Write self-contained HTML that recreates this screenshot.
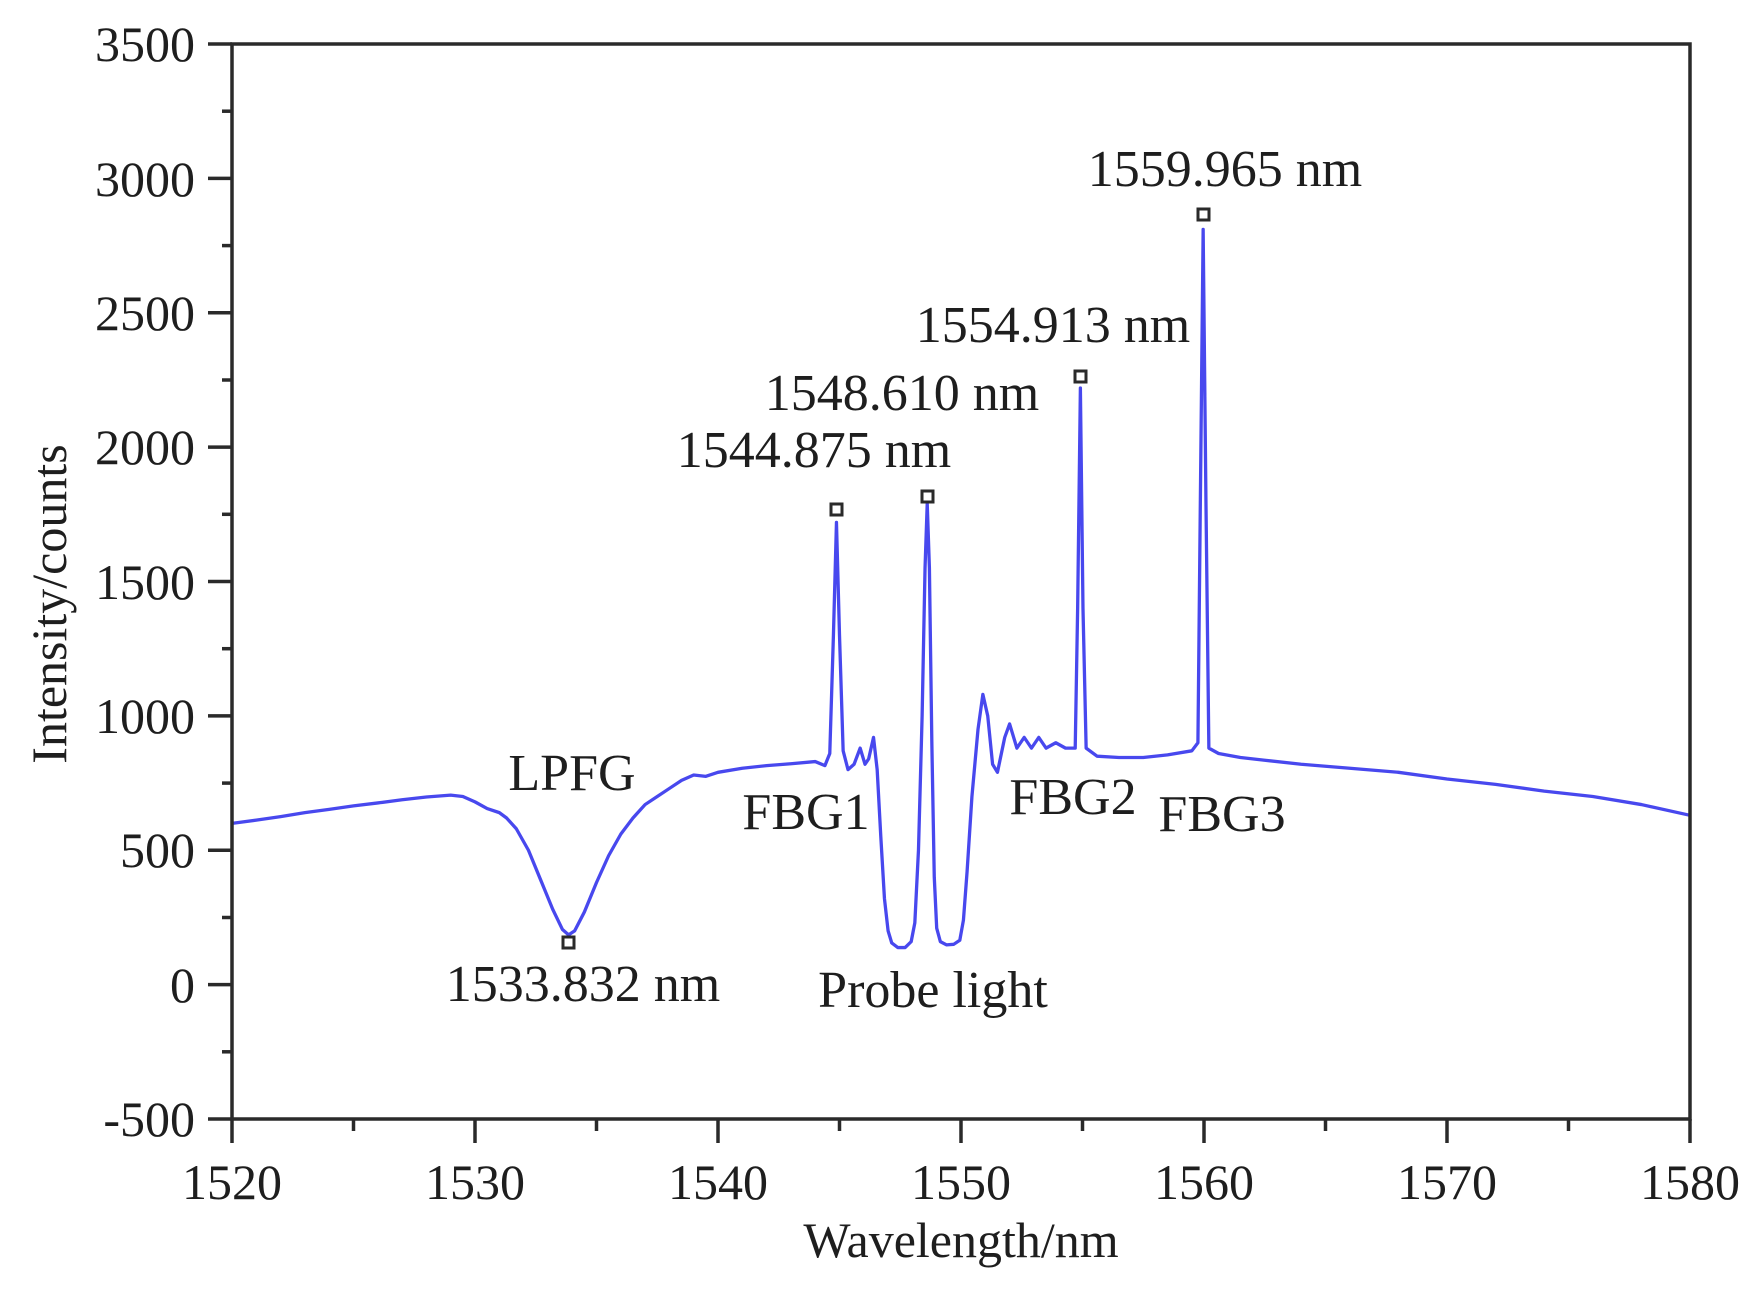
<!DOCTYPE html>
<html><head><meta charset="utf-8"><style>
html,body{margin:0;padding:0;background:#fff;}
svg{display:block;}
text{font-family:"Liberation Serif",serif;fill:#1e1e1e;}
</style></head><body>
<svg width="1764" height="1297" viewBox="0 0 1764 1297" xmlns="http://www.w3.org/2000/svg">
<rect width="1764" height="1297" fill="#fff"/>
<g transform="translate(232,1119) scale(24.3,-0.26875) translate(-1520,500)">
<path vector-effect="non-scaling-stroke" fill="none" stroke="#4848ee" stroke-width="3.3" stroke-linejoin="round" d="
M1520,600 L1521,612 L1522,625 L1523,640 L1524,652 L1525,665 L1526,676 L1527,688 L1528,698 L1529,705 L1529.5,700 L1530,680 L1530.5,655 L1531,640 L1531.3,620 L1531.7,580 L1532.2,500 L1532.7,390 L1533.2,280 L1533.6,205 L1533.85,185 L1534.1,200 L1534.5,270 L1535,380 L1535.5,480 L1536,560 L1536.5,620 L1537,670 L1537.5,700 L1538,730 L1538.5,760 L1539,780 L1539.5,775 L1540,790 L1541,805 L1542,815 L1543,822 L1544,830 L1544.4,815 L1544.6,860 L1544.75,1300 L1544.875,1720 L1545,1300 L1545.15,870 L1545.35,800 L1545.6,820 L1545.85,880 L1546.05,820 L1546.2,840 L1546.4,920 L1546.55,800 L1546.7,550 L1546.85,320 L1547,200 L1547.15,155 L1547.4,138 L1547.7,138 L1547.95,160 L1548.1,230 L1548.25,500 L1548.4,1000 L1548.52,1550 L1548.61,1790 L1548.7,1550 L1548.8,900 L1548.9,400 L1549,210 L1549.15,160 L1549.4,148 L1549.7,150 L1549.95,165 L1550.1,240 L1550.25,420 L1550.45,700 L1550.7,950 L1550.9,1080 L1551.1,1000 L1551.3,820 L1551.5,790 L1551.8,920 L1552,970 L1552.3,880 L1552.6,920 L1552.9,880 L1553.2,920 L1553.5,880 L1553.9,900 L1554.3,880 L1554.7,880 L1554.8,1400 L1554.913,2220 L1555.02,1400 L1555.15,880 L1555.6,850 L1556.5,845 L1557.5,845 L1558.5,855 L1559.5,870 L1559.75,900 L1559.85,1800 L1559.965,2810 L1560.08,1800 L1560.2,880 L1560.6,860 L1561.5,845 L1562.5,835 L1564,820 L1566,805 L1568,790 L1570,765 L1572,745 L1574,720 L1576,700 L1578,670 L1580,630"/>
</g>
<path d="M232,44 L1690,44 L1690,1119 L232,1119 Z" fill="none" stroke="#2a2a2a" stroke-width="3.5"/>
<g stroke="#2a2a2a" stroke-width="3.5">
<line x1="208" y1="44" x2="232" y2="44"/><line x1="208" y1="178.4" x2="232" y2="178.4"/><line x1="208" y1="312.8" x2="232" y2="312.8"/><line x1="208" y1="447.1" x2="232" y2="447.1"/><line x1="208" y1="581.5" x2="232" y2="581.5"/><line x1="208" y1="715.9" x2="232" y2="715.9"/><line x1="208" y1="850.3" x2="232" y2="850.3"/><line x1="208" y1="984.6" x2="232" y2="984.6"/><line x1="208" y1="1119" x2="232" y2="1119"/>
<line x1="222" y1="111.2" x2="232" y2="111.2"/><line x1="222" y1="245.6" x2="232" y2="245.6"/><line x1="222" y1="380" x2="232" y2="380"/><line x1="222" y1="514.3" x2="232" y2="514.3"/><line x1="222" y1="648.7" x2="232" y2="648.7"/><line x1="222" y1="783.1" x2="232" y2="783.1"/><line x1="222" y1="917.5" x2="232" y2="917.5"/><line x1="222" y1="1051.8" x2="232" y2="1051.8"/>
<line x1="232" y1="1119" x2="232" y2="1143"/><line x1="475" y1="1119" x2="475" y2="1143"/><line x1="718" y1="1119" x2="718" y2="1143"/><line x1="961" y1="1119" x2="961" y2="1143"/><line x1="1204" y1="1119" x2="1204" y2="1143"/><line x1="1447" y1="1119" x2="1447" y2="1143"/><line x1="1690" y1="1119" x2="1690" y2="1143"/>
<line x1="353.5" y1="1119" x2="353.5" y2="1131"/><line x1="596.5" y1="1119" x2="596.5" y2="1131"/><line x1="839.5" y1="1119" x2="839.5" y2="1131"/><line x1="1082.5" y1="1119" x2="1082.5" y2="1131"/><line x1="1325.5" y1="1119" x2="1325.5" y2="1131"/><line x1="1568.5" y1="1119" x2="1568.5" y2="1131"/>
</g>
<g font-size="50" text-anchor="end">
<text x="195" y="61">3500</text><text x="195" y="196">3000</text><text x="195" y="330">2500</text><text x="195" y="464">2000</text><text x="195" y="599">1500</text><text x="195" y="733">1000</text><text x="195" y="867">500</text><text x="195" y="1002">0</text><text x="195" y="1136">-500</text>
</g>
<g font-size="50" text-anchor="middle">
<text x="232" y="1199">1520</text><text x="475" y="1199">1530</text><text x="718" y="1199">1540</text><text x="961" y="1199">1550</text><text x="1204" y="1199">1560</text><text x="1447" y="1199">1570</text><text x="1690" y="1199">1580</text>
<text x="961" y="1257">Wavelength/nm</text>
<text transform="translate(66,604) rotate(-90)">Intensity/counts</text>
</g>
<g font-size="52" text-anchor="middle">
<text x="1225" y="186">1559.965 nm</text>
<text x="1053" y="342">1554.913 nm</text>
<text x="902" y="410">1548.610 nm</text>
<text x="814" y="467">1544.875 nm</text>
<text x="572" y="790">LPFG</text>
<text x="806" y="829">FBG1</text>
<text x="1073" y="814">FBG2</text>
<text x="1222" y="831">FBG3</text>
<text x="583" y="1001">1533.832 nm</text>
<text x="933" y="1007">Probe light</text>
</g>
<g fill="#fff" stroke="#2a2a2a" stroke-width="3">
<rect x="563" y="937" width="11" height="11"/>
<rect x="831" y="504" width="11" height="11"/>
<rect x="922" y="491" width="11" height="11"/>
<rect x="1075" y="371" width="11" height="11"/>
<rect x="1198" y="209" width="11" height="11"/>
</g>
</svg>
</body></html>
